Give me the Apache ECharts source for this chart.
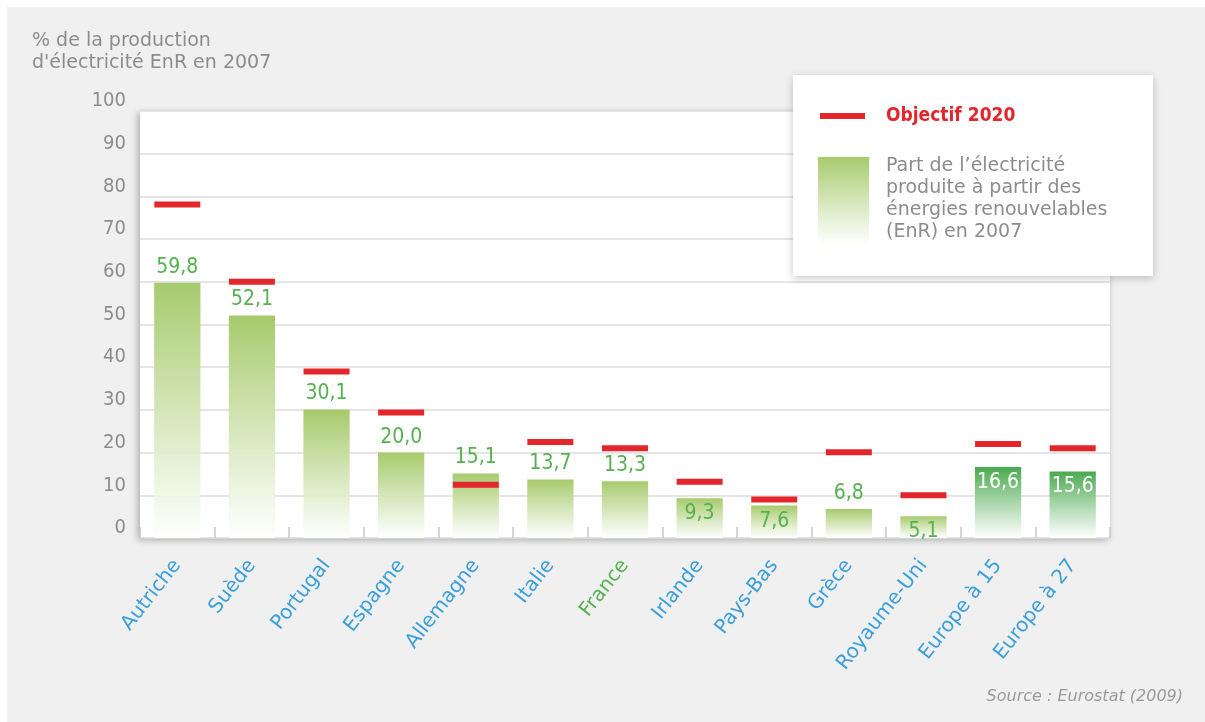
<!DOCTYPE html>
<html>
<head>
<meta charset="utf-8">
<script src="https://cdn.jsdelivr.net/npm/echarts@6/dist/echarts.min.js"></script>
<style>
  html, body { margin: 0; padding: 0; background: #ffffff; }
  #chart { width: 1205px; height: 722px; }
</style>
</head>
<body>
<div id="chart"></div>
<script>
// Share of electricity produced from renewable sources (2007) and 2020 targets
const categories = ['Autriche', 'Suède', 'Portugal', 'Espagne', 'Allemagne', 'Italie', 'France',
  'Irlande', 'Pays-Bas', 'Grèce', 'Royaume-Uni', 'Europe à 15', 'Europe à 27'];
const shares2007 = [59.8, 52.1, 30.1, 20.0, 15.1, 13.7, 13.3, 9.3, 7.6, 6.8, 5.1, 16.6, 15.6];
const targets2020 = [78.1, 60, 39, 29.4, 12.5, 22.5, 21, 13.2, 9, 20.1, 10, 22, 21];
const aggregates = ['Europe à 15', 'Europe à 27'];
const highlighted = 'France';
const yMin = 0, yMax = 100, yStep = 10;

const titleLines = ['% de la production', "d'électricité EnR en 2007"];
const legendTarget = 'Objectif 2020';
const legendShareLines = ["Part de l’électricité", 'produite à partir des', 'énergies renouvelables', '(EnR) en 2007'];
const sourceText = 'Source : Eurostat (2009)';

const NARROW = '"DejaVu Sans Condensed", "Liberation Sans Narrow", "DejaVu Sans", sans-serif';
const WIDE = '"DejaVu Sans", "Noto Sans", sans-serif';
const GREY = '#8c8c8c';
const RED = '#e3262b';
const BLUE = '#3a9fdb';
const GREEN_TEXT = '#56b150';
const LIGHT_GREEN = '#a7ca6c';
const DARK_GREEN = '#4aa94f';

function fade(top) {
  return new echarts.graphic.LinearGradient(0, 0, 0, 1, [
    { offset: 0, color: top },
    { offset: 1, color: 'rgba(255,255,255,0.9)' }
  ]);
}

const fmt = v => v.toFixed(1).replace('.', ',');

const barData = shares2007.map((v, i) => {
  const isAgg = aggregates.includes(categories[i]);
  const gap = targets2020[i] - v;
  // put the value inside the bar when the target marker sits just above it
  const inside = isAgg || (gap > 0 && gap < 6);
  return {
    value: v,
    itemStyle: { color: fade(isAgg ? DARK_GREEN : LIGHT_GREEN) },
    label: {
      position: inside ? 'insideTop' : 'top',
      color: isAgg ? '#ffffff' : GREEN_TEXT
    }
  };
});

const axisCats = categories.map(c => ({
  value: c,
  textStyle: { color: c === highlighted ? GREEN_TEXT : BLUE }
}));

const chart = echarts.init(document.getElementById('chart'));
chart.setOption({
  backgroundColor: '#ffffff',
  animation: false,
  textStyle: { fontFamily: NARROW },
  grid: {
    left: 140, right: 95, top: 111, bottom: 184,
    show: true,
    backgroundColor: '#ffffff',
    borderWidth: 0,
    shadowColor: 'rgba(0,0,0,0.3)',
    shadowBlur: 7,
    shadowOffsetX: -2,
    shadowOffsetY: 2
  },
  xAxis: {
    type: 'category',
    data: axisCats,
    axisLine: { show: false },
    axisTick: { show: true, inside: true, length: 11, lineStyle: { color: '#c8c8c8', width: 1.5 } },
    axisLabel: { rotate: 52, margin: 24, fontSize: 20, fontFamily: WIDE, color: BLUE }
  },
  yAxis: {
    type: 'value',
    min: yMin, max: yMax, interval: yStep,
    axisLine: { show: false },
    axisTick: { show: false },
    splitLine: { lineStyle: { color: '#dddddd', width: 1.5 } },
    axisLabel: { fontSize: 20, color: GREY, margin: 14, verticalAlign: 'bottom', fontFamily: NARROW }
  },
  series: [
    {
      name: 'Part EnR 2007',
      type: 'bar',
      barWidth: '62%',
      data: barData,
      label: {
        show: true, distance: 5, fontSize: 21, fontFamily: NARROW,
        formatter: p => fmt(p.value)
      },
      z: 2
    },
    {
      name: legendTarget,
      type: 'scatter',
      symbol: 'rect',
      symbolSize: [46, 6],
      itemStyle: { color: RED, opacity: 1 },
      data: targets2020,
      z: 5
    }
  ],
  graphic: [
    { type: 'rect', z: -10, shape: { x: 7, y: 7, width: 1205, height: 722 }, style: { fill: '#f0f0f0' } },
    {
      type: 'text', left: 32, top: 30, z: 10,
      style: { text: titleLines.join('\n'), fill: GREY, font: '19px ' + WIDE, lineHeight: 22 }
    },
    {
      type: 'group', zlevel: 1,
      children: [
        { type: 'rect', zlevel: 1, shape: { x: 793, y: 75, width: 360, height: 201 },
          style: { fill: '#ffffff', shadowBlur: 8, shadowColor: 'rgba(0,0,0,0.22)', shadowOffsetY: 2 } },
        { type: 'rect', zlevel: 1, shape: { x: 820, y: 113, width: 45, height: 6 }, style: { fill: RED } },
        { type: 'text', zlevel: 1, x: 886, y: 116,
          style: { text: legendTarget, fill: RED, font: 'bold 19px ' + NARROW, verticalAlign: 'middle' } },
        { type: 'rect', zlevel: 1, shape: { x: 818, y: 157, width: 51, height: 88 }, style: { fill: fade(LIGHT_GREEN) } },
        { type: 'text', zlevel: 1, x: 886, y: 155,
          style: { text: legendShareLines.join('\n'), fill: GREY, font: '19px ' + WIDE, lineHeight: 22 } }
      ]
    },
    {
      type: 'text', right: 22, top: 689, z: 10,
      style: { text: sourceText, fill: '#9a9a9a', font: 'italic 16px ' + WIDE }
    }
  ]
});
</script>
</body>
</html>
